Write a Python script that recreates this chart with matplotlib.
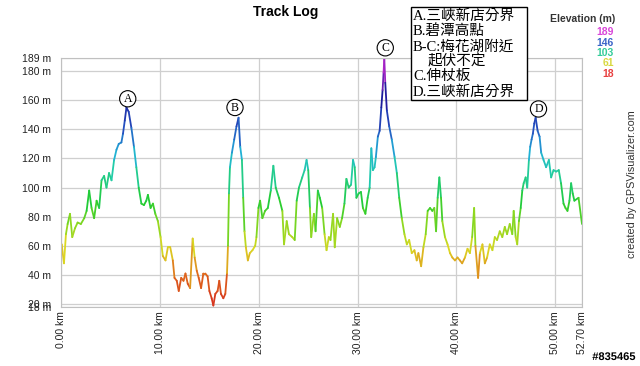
import matplotlib
matplotlib.use("Agg")
import matplotlib.pyplot as plt
import matplotlib.colors as colors
from matplotlib.collections import LineCollection
import matplotlib.patheffects as pe
import numpy as np

# elevation profile
dist_km = [0.00, 0.07, 0.30, 0.50, 0.67, 0.91, 1.14, 1.41, 1.68, 2.01, 2.35, 2.59, 2.85, 3.09, 3.35,
           3.60, 3.86, 4.10, 4.36, 4.60, 4.86, 5.11, 5.37, 5.61, 5.84, 6.11, 6.27, 6.45, 6.62, 6.85,
           7.12, 7.38, 7.62, 7.86, 8.13, 8.39, 8.63, 8.79, 9.06, 9.30, 9.54, 9.80, 10.07, 10.30, 10.57,
           10.81, 11.05, 11.31, 11.48, 11.71, 11.91, 12.16, 12.39, 12.59, 12.82, 13.06, 13.32, 13.52, 13.73,
           13.93, 14.17, 14.40, 14.60, 14.83, 15.01, 15.24, 15.41, 15.61, 15.84, 16.01, 16.18, 16.42, 16.62,
           16.79, 16.89, 16.99, 17.09, 17.29, 17.52, 17.75, 17.96, 18.13, 18.30, 18.43, 18.56, 18.70, 18.90,
           19.10, 19.37, 19.64, 19.77, 19.97, 20.14, 20.37, 20.64, 20.92, 21.22, 21.48, 21.72, 22.05, 22.39,
           22.56, 22.83, 23.06, 23.39, 23.64, 23.84, 24.07, 24.40, 24.64, 24.84, 25.01, 25.18, 25.31, 25.58,
           25.75, 25.98, 26.18, 26.42, 26.66, 26.86, 27.09, 27.26, 27.52, 27.69, 27.93, 28.20, 28.43, 28.67,
           28.87, 29.10, 29.34, 29.54, 29.71, 29.88, 30.11, 30.34, 30.54, 30.79, 31.02, 31.22, 31.39, 31.55,
           31.72, 31.85, 32.05, 32.23, 32.40, 32.53, 32.63, 32.70, 32.80, 32.96, 33.20, 33.46, 33.74, 33.97,
           34.21, 34.47, 34.74, 34.98, 35.22, 35.48, 35.75, 35.98, 36.15, 36.43, 36.66, 36.89, 37.09, 37.33,
           37.56, 37.76, 37.94, 38.10, 38.27, 38.44, 38.57, 38.84, 39.10, 39.35, 39.58, 39.85, 40.11, 40.35,
           40.58, 40.86, 41.12, 41.36, 41.59, 41.79, 41.92, 42.19, 42.37, 42.63, 42.87, 43.10, 43.37, 43.64,
           43.88, 44.11, 44.38, 44.64, 44.89, 45.12, 45.39, 45.65, 45.79, 45.99, 46.15, 46.32, 46.50, 46.66,
           46.80, 47.00, 47.16, 47.33, 47.46, 47.60, 47.73, 47.87, 48.01, 48.21, 48.41, 48.57, 48.81, 49.07,
           49.35, 49.58, 49.82, 50.08, 50.35, 50.58, 50.83, 51.03, 51.23, 51.43, 51.60, 51.76, 51.93, 52.35,
           52.70]
elev_m = [55, 61, 48, 68, 75, 82, 66, 72, 76, 75, 79, 84, 98, 86, 79,
          91, 86, 105, 108, 100, 110, 105, 119, 126, 130, 131, 137, 146, 155, 152,
          141, 128, 114, 100, 89, 88, 91, 95, 86, 89, 82, 77, 66, 53, 50,
          59, 59, 50, 38, 36, 29, 38, 36, 41, 34, 31, 65, 52, 43,
          38, 31, 41, 41, 39, 29, 24, 19, 27, 29, 36, 27, 24, 27,
          41, 60, 96, 114, 124, 133, 142, 148, 128, 119, 93, 70, 59, 50,
          55, 57, 60, 66, 86, 91, 79, 84, 86, 98, 115, 100, 93, 84,
          61, 77, 68, 66, 64, 91, 100, 107, 112, 119, 112, 86, 66, 82,
          70, 98, 93, 86, 68, 57, 66, 64, 82, 59, 79, 73, 79, 89,
          106, 100, 102, 119, 114, 93, 96, 97, 86, 82, 93, 100, 127, 112,
          114, 121, 135, 139, 155, 167, 179, 189, 172, 153, 142, 133, 121, 110,
          93, 79, 68, 61, 64, 55, 57, 50, 55, 46, 59, 68, 84, 86,
          84, 86, 70, 93, 107, 93, 77, 66, 61, 55, 52, 50, 52, 50,
          48, 52, 58, 55, 66, 86, 60, 38, 55, 61, 48, 52, 61, 57,
          66, 64, 70, 66, 73, 68, 75, 68, 84, 66, 61, 77, 86, 98,
          103, 107, 100, 119, 128, 133, 137, 144, 148, 139, 135, 124, 119, 114,
          119, 107, 112, 111, 112, 103, 89, 86, 84, 91, 103, 96, 91, 93,
          75]

y_ticks = [18, 20, 40, 60, 80, 100, 120, 140, 160, 180, 189]
x_ticks = [0, 10, 20, 30, 40, 50, 52.7]

legend_vals = [189, 146, 103, 61, 18]
legend_cols = ['#d946d9', '#3a64c8', '#33cc99', '#d8d840', '#e84040']

markers = ['A', 'B', 'C', 'D']
marker_km = [6.75, 17.6, 32.8, 48.3]
marker_m = [161, 155, 196, 154]

notes = ['A.三峽新店分界', 'B.碧潭高點', 'B-C:梅花湖附近', '起伏不定', 'C.伸杖板', 'D.三峽新店分界']

cmap = colors.LinearSegmentedColormap.from_list('elev', [
    (0.00, '#d42a1e'), (0.13, '#e06a1c'), (0.23, '#dcd822'), (0.33, '#8cd820'),
    (0.42, '#22cc30'), (0.55, '#22ccaa'), (0.62, '#22b0d8'), (0.72, '#2450c0'),
    (0.84, '#1c1c9c'), (1.00, '#d428d4')])
norm = colors.Normalize(18, 189)

fig = plt.figure(figsize=(6.4, 3.66), dpi=100)
ax = fig.add_axes([61/640, 1-307/366, (582-61)/640, (307-58)/366])

pts = np.column_stack([dist_km, elev_m])
segs = np.stack([pts[:-1], pts[1:]], axis=1)
lc = LineCollection(segs, cmap=cmap, norm=norm, linewidth=1.3, capstyle='round')
lc.set_array((np.array(elev_m[:-1]) + np.array(elev_m[1:])) / 2)
ax.add_collection(lc)

ax.set_xlim(0, 52.7)
ax.set_ylim(18, 189)
ax.set_yticks(y_ticks)
ax.set_yticklabels([f'{v} m' for v in y_ticks])
ax.set_xticks(x_ticks)
ax.set_xticklabels([f'{v:.2f} km' for v in x_ticks], rotation=90)
ax.tick_params(length=0, labelsize=7.5, colors='#222222')
ax.tick_params(axis='y', pad=7)
ax.tick_params(axis='x', pad=3)
for lab in ax.get_xticklabels() + ax.get_yticklabels():
    lab.set_family('Liberation Sans')
ax.grid(True, color='#cfcfcf', linewidth=0.9)
ax.set_axisbelow(True)
for s in ax.spines.values():
    s.set_color('#c0c0c0')

for m, xk, ym in zip(markers, marker_km, marker_m):
    ax.text(xk, ym, m, ha='center', va='center', fontsize=8.5, family='Liberation Serif',
            clip_on=False, bbox=dict(boxstyle='circle,pad=0.18', fc='white', ec='black', lw=0.8))

fig.text(286/640, 1-12/366, 'Track Log', ha='center', va='center', fontsize=10,
         fontweight='bold', family='Liberation Sans')

# notes box
fig.patches.append(plt.Rectangle((411/640, 1-100/366), 116/640, 93/366, transform=fig.transFigure,
                                 fc='white', ec='black', lw=1, zorder=5))
note_x = [413, 413, 413, 428, 413, 413]
for i, (t, nx) in enumerate(zip(notes, note_x)):
    fig.text(nx/640, 1-(16+15.2*i)/366, t, ha='left', va='center', fontsize=10.5,
             family=['Liberation Serif', 'Noto Sans CJK TC'], zorder=6)

# elevation legend
fig.text(615/640, 1-19/366, 'Elevation (m)', ha='right', va='center', fontsize=7.5,
         fontweight='bold', family='Liberation Sans', color='#333333')
for i, (v, c) in enumerate(zip(legend_vals, legend_cols)):
    fig.text(614/640, 1-(32+10.5*i)/366, str(v), ha='right', va='center', fontsize=7.5,
             fontweight='bold', family='Liberation Sans', color=c)

fig.text(632/640, 1-184/366, 'created by GPSVisualizer.com', rotation=90, ha='center', va='center',
         fontsize=7.8, family='Liberation Sans', color='#333333')
fig.text(614/640, 1-357/366, '#835465', ha='center', va='center', fontsize=8, fontweight='bold',
         family='Liberation Sans', color='black',
         path_effects=[pe.withStroke(linewidth=2, foreground='white')])

fig.savefig('out.png', dpi=100)
